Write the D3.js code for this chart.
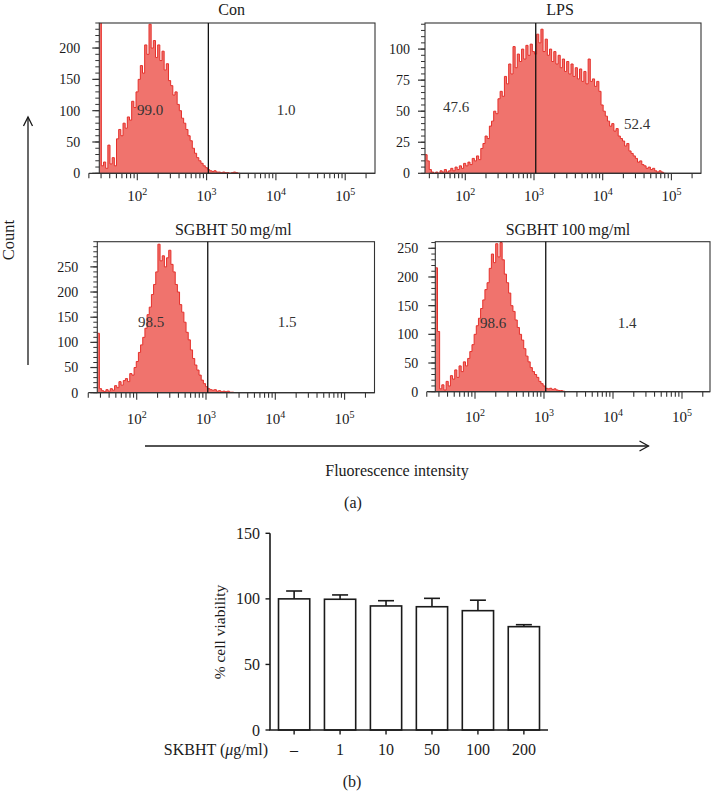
<!DOCTYPE html>
<html><head><meta charset="utf-8">
<script src="https://cdn.jsdelivr.net/npm/d3@7"></script>
<style>
body{margin:0;background:#fff}
svg{display:block}
text{font-family:"Liberation Serif","Times New Roman",serif;fill:#1a1a1a}
</style>
</head><body>
<svg id="c" width="711" height="805"></svg>
<script>
// ---------- DATA ----------
const binsPerDecade = 32;
const panelTitles = ["Con", "LPS", "SGBHT\u200950\u2009mg/ml", "SGBHT\u2009100\u2009mg/ml"];
const gateValue = 1060;
const xTickExponents = [2, 3, 4, 5];

// histogram counts (one bin = 1/32 decade), first bin starts at 10^start
const conStart = 1.45;
const conCounts = [400, 12, 18, 8, 45, 15, 25, 12, 55, 70, 60, 80, 72, 90, 85, 115, 105, 130, 150, 172,
  160, 205, 190, 238, 200, 212, 185, 205, 180, 195, 165, 175, 148, 140, 125, 130, 110, 100, 88, 80,
  70, 60, 52, 40, 32, 25, 20, 16, 12, 9, 6, 4, 3, 4, 2, 2, 1, 2, 1, 1, 0, 1, 2, 1, 0];
const lpsStart = 1.413;
const lpsCounts = [15, 10, 3, 1, 0, 1, 0, 2, 1, 3, 1, 2, 4, 2, 5, 3, 6, 4, 8, 6,
  9, 7, 12, 10, 14, 11, 20, 24, 30, 28, 38, 42, 50, 48, 60, 66, 62, 78, 72, 88,
  80, 102, 85, 96, 90, 100, 92, 103, 95, 104, 98, 96, 112, 105, 116, 98, 108, 95, 100, 90,
  98, 88, 95, 85, 92, 82, 90, 80, 88, 78, 85, 76, 84, 74, 82, 72, 92, 74, 76, 70,
  74, 66, 55, 50, 46, 42, 38, 40, 34, 36, 30, 28, 26, 22, 24, 18, 16, 14, 12, 9,
  10, 7, 6, 4, 5, 3, 4, 2, 1, 2, 1, 0];
const s50Start = 1.431;
const s50Counts = [118, 8, 4, 2, 6, 3, 8, 5, 14, 10, 22, 15, 24, 28, 22, 38, 35, 50, 62, 80,
  95, 110, 128, 155, 170, 195, 215, 240, 295, 262, 272, 250, 268, 283, 255, 240, 215, 200, 175, 160,
  140, 120, 105, 85, 68, 55, 45, 35, 25, 18, 12, 8, 6, 5, 6, 3, 4, 2, 3, 2, 3, 1, 1, 0];
const s100Start = 1.425;
const s100Counts = [216, 105, 5, 12, 3, 18, 10, 28, 22, 38, 25, 45, 35, 52, 45, 58, 70, 82, 100, 115,
  128, 145, 160, 178, 190, 215, 240, 225, 258, 235, 260, 230, 205, 190, 172, 150, 140, 125, 112, 100,
  90, 75, 62, 52, 42, 35, 30, 25, 18, 14, 10, 6, 5, 6, 4, 5, 3, 2, 2, 1, 0];

const conYTicks = [0, 50, 100, 150, 200];
const lpsYTicks = [0, 25, 50, 75, 100];
const s50YTicks = [0, 50, 100, 150, 200, 250];
const s100YTicks = [0, 50, 100, 150, 200, 250];

const conPct = ["99.0", "1.0"];
const lpsPct = ["47.6", "52.4"];
const s50Pct = ["98.5", "1.5"];
const s100Pct = ["98.6", "1.4"];

// bar chart
const barCategories = ["\u2013", "1", "10", "50", "100", "200"];
const barValues = [100, 99.7, 94.6, 94, 91, 78.8];
const barErrors = [6, 3.3, 4, 6.4, 8, 1.5];
const barYTicks = [0, 50, 100, 150];

// ---------- LAYOUT ----------
const svg = d3.select("#c");
const FILL = "#f0736d", STROKE = "#e5302b", INK = "#1a1a1a";

const panels = [
  {id: "con", counts: conCounts, start: conStart, yTicks: conYTicks, pct: conPct, title: panelTitles[0],
   left: 99.3, right: 375, top: 23, bottom: 173.3, x100: 137.3, x1e5: 345.2, ymax: 240, yMinor: 10,
   xTickMin: 20, labelGap: 19, labelY: 201, titleX: 231.7, titleY: 15,
   pctPos: [[150, 110], [286, 110]]},
  {id: "lps", counts: lpsCounts, start: lpsStart, yTicks: lpsYTicks, pct: lpsPct, title: panelTitles[1],
   left: 425, right: 701, top: 23, bottom: 173.3, x100: 465.3, x1e5: 671.4, ymax: 121, yMinor: 5,
   xTickMin: 30, labelGap: 15, labelY: 201, titleX: 560, titleY: 15,
   pctPos: [[456, 107], [637, 124]]},
  {id: "s50", counts: s50Counts, start: s50Start, yTicks: s50YTicks, pct: s50Pct, title: panelTitles[2],
   left: 97.3, right: 374.5, top: 241.7, bottom: 392.7, x100: 136.7, x1e5: 344.6, ymax: 300, yMinor: 10,
   xTickMin: 20, labelGap: 19, labelY: 424, titleX: 233.3, titleY: 235,
   pctPos: [[151, 322], [287, 322]]},
  {id: "s100", counts: s100Counts, start: s100Start, yTicks: s100YTicks, pct: s100Pct, title: panelTitles[3],
   left: 435.3, right: 710, top: 241.7, bottom: 391.7, x100: 475, x1e5: 682, ymax: 261.5, yMinor: 10,
   xTickMin: 20, labelGap: 17, labelY: 422, titleX: 568, titleY: 235,
   pctPos: [[493, 323], [627, 323]]}
];

function drawPanel(p) {
  const x = d3.scaleLog().domain([100, 1e5]).range([p.x100, p.x1e5]);
  const y = d3.scaleLinear().domain([0, p.ymax]).range([p.bottom, p.top]);
  const g = svg.append("g");
  const clipId = "clip-" + p.id;
  svg.append("clipPath").attr("id", clipId).append("rect")
    .attr("x", p.left).attr("y", p.top).attr("width", p.right - p.left).attr("height", p.bottom - p.top);

  const pts = p.counts.map((c, i) => ({v: Math.pow(10, p.start + i / binsPerDecade), c}));
  pts.push({v: Math.pow(10, p.start + p.counts.length / binsPerDecade), c: 0});

  const area = d3.area().x(d => x(d.v)).y0(y(0)).y1(d => y(d.c)).curve(d3.curveStepAfter);
  const line = d3.line().x(d => x(d.v)).y(d => y(d.c)).curve(d3.curveStepAfter);
  g.append("path").attr("clip-path", `url(#${clipId})`).attr("d", area(pts)).attr("fill", FILL);
  g.append("path").attr("clip-path", `url(#${clipId})`).attr("d", line(pts))
    .attr("fill", "none").attr("stroke", STROKE).attr("stroke-width", 1);

  // frame
  g.append("rect").attr("x", p.left).attr("y", p.top).attr("width", p.right - p.left)
    .attr("height", p.bottom - p.top).attr("fill", "none").attr("stroke", "#333").attr("stroke-width", 1.1);
  // x axis line extension
  g.append("line").attr("x1", x(p.xTickMin)).attr("x2", p.right).attr("y1", p.bottom).attr("y2", p.bottom)
    .attr("stroke", "#333").attr("stroke-width", 1.3);
  // gate
  g.append("line").attr("x1", x(gateValue)).attr("x2", x(gateValue)).attr("y1", p.top).attr("y2", p.bottom)
    .attr("stroke", "#111").attr("stroke-width", 1.3);

  // y ticks
  const minor = d3.range(0, p.ymax + 0.001, p.yMinor);
  g.selectAll(null).data(minor).enter().append("line")
    .attr("x1", p.left - 4).attr("x2", p.left).attr("y1", d => y(d)).attr("y2", d => y(d))
    .attr("stroke", "#333").attr("stroke-width", 1);
  g.selectAll(null).data(p.yTicks).enter().append("line")
    .attr("x1", p.left - 7).attr("x2", p.left).attr("y1", d => y(d)).attr("y2", d => y(d))
    .attr("stroke", "#333").attr("stroke-width", 1.2);
  g.selectAll(null).data(p.yTicks).enter().append("text")
    .attr("x", p.left - p.labelGap).attr("y", d => y(d)).attr("dy", "0.35em")
    .attr("text-anchor", "end").style("font-size", "14px").text(d => d);

  // x ticks
  const xt = [];
  for (let e = 1; e <= 5; e++) for (let m = 1; m <= 9; m++) {
    const v = m * Math.pow(10, e);
    if (v >= p.xTickMin && x(v) <= p.right) xt.push({v, major: m === 1});
  }
  g.selectAll(null).data(xt).enter().append("line")
    .attr("x1", d => x(d.v)).attr("x2", d => x(d.v))
    .attr("y1", p.bottom).attr("y2", d => p.bottom + (d.major ? 7 : 5))
    .attr("stroke", "#333").attr("stroke-width", 1.1);
  xTickExponents.forEach(e => {
    const t = g.append("text").attr("x", x(Math.pow(10, e))).attr("y", p.labelY)
      .attr("text-anchor", "middle").style("font-size", "15px");
    t.append("tspan").text("10");
    t.append("tspan").attr("dy", -6).style("font-size", "10px").text(e);
  });

  // title
  g.append("text").attr("x", p.titleX).attr("y", p.titleY).attr("text-anchor", "middle")
    .style("font-size", "16px").text(p.title);
  // percentages
  p.pct.forEach((s, i) => {
    g.append("text").attr("x", p.pctPos[i][0]).attr("y", p.pctPos[i][1]).attr("dy", "0.35em")
      .attr("text-anchor", "middle").style("font-size", "15px").style("fill", "#333").text(s);
  });
}
panels.forEach(drawPanel);

// shared axis arrows
svg.append("line").attr("x1", 28).attr("x2", 28).attr("y1", 365).attr("y2", 117)
  .attr("stroke", INK).attr("stroke-width", 1.3);
svg.append("path").attr("d", "M23.5,126 L28,117 L32.5,126").attr("fill", "none")
  .attr("stroke", INK).attr("stroke-width", 1.3);
svg.append("text").attr("transform", "translate(14,240) rotate(-90)").attr("text-anchor", "middle")
  .style("font-size", "16.5px").text("Count");

svg.append("line").attr("x1", 145).attr("x2", 648.5).attr("y1", 446).attr("y2", 446)
  .attr("stroke", INK).attr("stroke-width", 1.3);
svg.append("path").attr("d", "M639.5,441 L648.5,446 L639.5,451").attr("fill", "none")
  .attr("stroke", INK).attr("stroke-width", 1.3);
svg.append("text").attr("x", 397).attr("y", 476).attr("text-anchor", "middle")
  .style("font-size", "16px").text("Fluorescence intensity");
svg.append("text").attr("x", 353).attr("y", 508).attr("text-anchor", "middle")
  .style("font-size", "16px").text("(a)");

// ---------- BAR CHART ----------
const bx = d3.scaleBand().domain(barCategories).range([270, 548]).paddingInner(0.32).paddingOuter(0.185);
const by = d3.scaleLinear().domain([0, 150]).range([730, 533.3]);
const bg = svg.append("g");
bg.selectAll(null).data(barCategories).enter().append("rect")
  .attr("x", d => bx(d)).attr("width", bx.bandwidth())
  .attr("y", (d, i) => by(barValues[i])).attr("height", (d, i) => by(0) - by(barValues[i]))
  .attr("fill", "#fff").attr("stroke", INK).attr("stroke-width", 1.6);
bg.selectAll(null).data(barCategories).enter().append("line")
  .attr("x1", d => bx(d) + bx.bandwidth() / 2).attr("x2", d => bx(d) + bx.bandwidth() / 2)
  .attr("y1", (d, i) => by(barValues[i])).attr("y2", (d, i) => by(barValues[i] + barErrors[i]))
  .attr("stroke", INK).attr("stroke-width", 1.6);
bg.selectAll(null).data(barCategories).enter().append("line")
  .attr("x1", d => bx(d) + bx.bandwidth() / 2 - 8).attr("x2", d => bx(d) + bx.bandwidth() / 2 + 8)
  .attr("y1", (d, i) => by(barValues[i] + barErrors[i])).attr("y2", (d, i) => by(barValues[i] + barErrors[i]))
  .attr("stroke", INK).attr("stroke-width", 1.6);
// axes
bg.append("line").attr("x1", 270).attr("x2", 270).attr("y1", by(0)).attr("y2", by(150))
  .attr("stroke", INK).attr("stroke-width", 1.6);
bg.append("line").attr("x1", 269.2).attr("x2", 548).attr("y1", by(0)).attr("y2", by(0))
  .attr("stroke", INK).attr("stroke-width", 1.6);
bg.selectAll(null).data(barYTicks).enter().append("line")
  .attr("x1", 265.5).attr("x2", 270).attr("y1", d => by(d)).attr("y2", d => by(d))
  .attr("stroke", INK).attr("stroke-width", 1.4);
bg.selectAll(null).data(barYTicks).enter().append("text")
  .attr("x", 260).attr("y", d => by(d)).attr("dy", "0.35em").attr("text-anchor", "end")
  .style("font-size", "16px").text(d => d);
bg.selectAll(null).data(barCategories).enter().append("line")
  .attr("x1", d => bx(d) + bx.bandwidth() / 2).attr("x2", d => bx(d) + bx.bandwidth() / 2)
  .attr("y1", by(0)).attr("y2", by(0) + 4.5).attr("stroke", INK).attr("stroke-width", 1.4);
bg.selectAll(null).data(barCategories).enter().append("text")
  .attr("x", d => bx(d) + bx.bandwidth() / 2).attr("y", 755).attr("text-anchor", "middle")
  .style("font-size", "16px").text(d => d);
const xl = bg.append("text").attr("x", 268).attr("y", 755).attr("text-anchor", "end").style("font-size", "16px");
xl.append("tspan").text("SKBHT (");
xl.append("tspan").style("font-style", "italic").text("\u03bc");
xl.append("tspan").text("g/ml)");
bg.append("text").attr("transform", "translate(225,632) rotate(-90)").attr("text-anchor", "middle")
  .style("font-size", "15.5px").text("% cell viability");
bg.append("text").attr("x", 352).attr("y", 787).attr("text-anchor", "middle")
  .style("font-size", "16px").text("(b)");
</script>
</body></html>
